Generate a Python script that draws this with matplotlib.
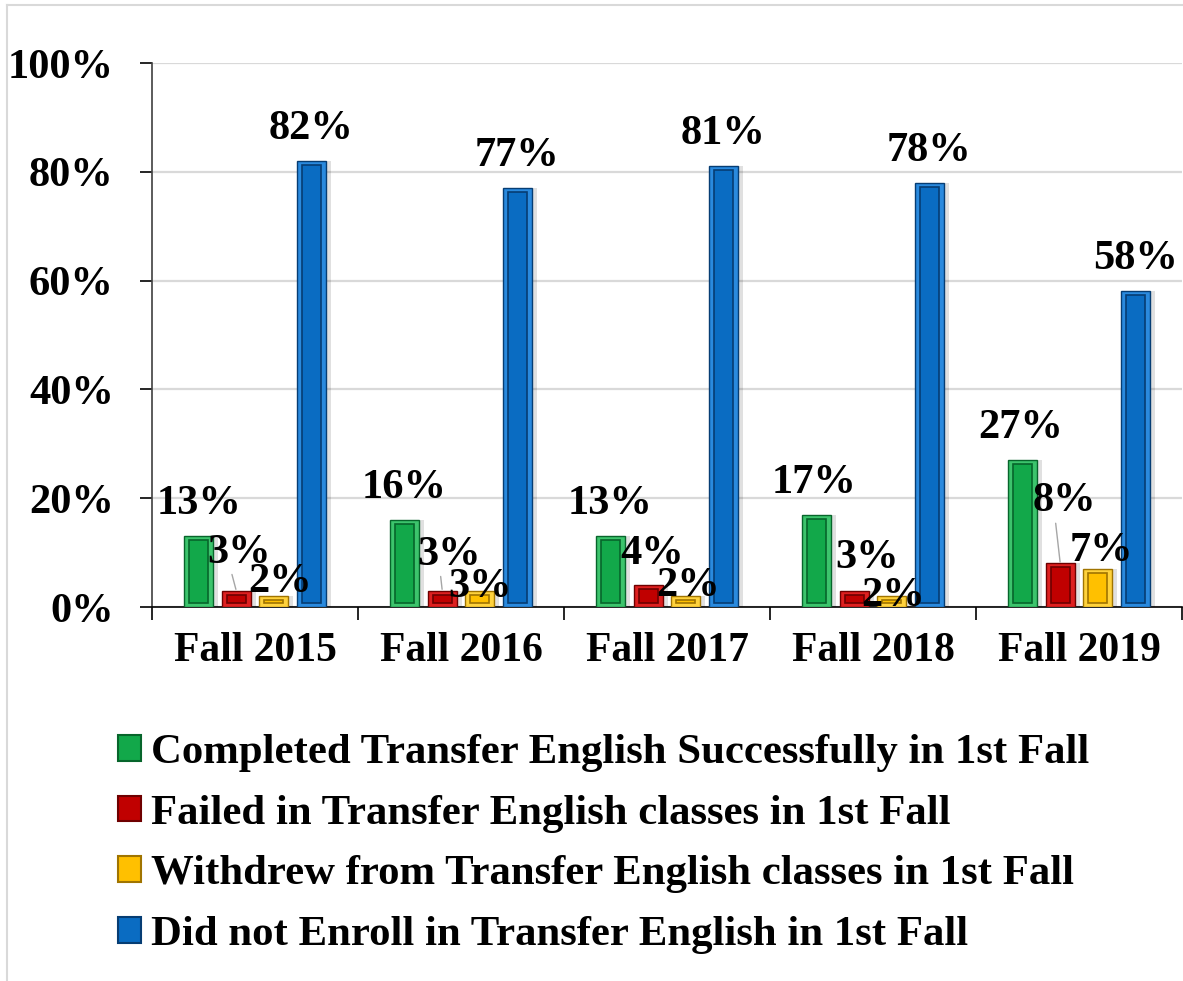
import numpy as np
import matplotlib.pyplot as plt
from matplotlib.patches import Patch
from matplotlib.lines import Line2D

# data
years = ['Fall 2015', 'Fall 2016', 'Fall 2017', 'Fall 2018', 'Fall 2019']
series_names = ['Completed Transfer English Successfully in 1st Fall',
                'Failed in Transfer English classes in 1st Fall',
                'Withdrew from Transfer English classes in 1st Fall',
                'Did not Enroll in Transfer English in 1st Fall']
completed = [13, 16, 13, 17, 27]
failed = [3, 3, 4, 3, 8]
withdrew = [2, 3, 2, 2, 7]
not_enrolled = [82, 77, 81, 78, 58]

# style
colors = ['#12a84a', '#c00000', '#ffc000', '#0a6cc2']
dark = ['#07652b', '#6e0000', '#a07400', '#063d73']
light = ['#3cc46c', '#de2020', '#ffd23c', '#2a8ade']
# label offsets in pixels (dx, dy above bar top)
lab_off = [
    [(0, 22), (-1, 22), (-1, 22), (-3, 22), (-2, 22)],
    [(3, 28), (7, 26), (4, 21), (13, 23), (4, 52)],
    [(6, 4), (0, -6), (2, 0), (1, -10), (4, 8)],
    [(0, 22), (0, 22), (0, 22), (0, 22), (0, 22)],
]
leaders = {(1, 0), (1, 1), (1, 4)}

plt.rcParams['font.family'] = ['Liberation Serif', 'DejaVu Serif']
plt.rcParams['font.weight'] = 'bold'

fig = plt.figure(figsize=(11.83, 9.81), dpi=100)
ax = fig.add_axes([152 / 1183, 1 - 607 / 981, (1182 - 152) / 1183, (607 - 63) / 981])

x = np.arange(len(years))
w = 0.14
step = 0.182
data = [completed, failed, withdrew, not_enrolled]
px_y = 100 / 544.0  # data units per pixel (y)
px_x = 5 / 1030.0

for i, vals in enumerate(data):
    pos = x + (i - 1.5) * step
    # shadow
    ax.bar(pos + 5 * px_x, vals, w, color='#000000', alpha=0.12, zorder=2)
    ax.bar(pos, vals, w, color=light[i], edgecolor=dark[i], linewidth=1.0, zorder=3)
    inset_x = 5 * px_x
    inset_y = 4 * px_y
    inner = [max(v - 2 * inset_y, 0.3) for v in vals]
    ax.bar(pos, inner, w - 2 * inset_x, bottom=inset_y, color=colors[i],
           edgecolor=dark[i], linewidth=1.2, zorder=4)
    for j, v in enumerate(vals):
        dx, dy = lab_off[i][j]
        kw = {}
        if (i, j) in leaders:
            kw['arrowprops'] = dict(arrowstyle='-', color='#a6a6a6', lw=1,
                                    shrinkA=0, shrinkB=1, relpos=(0.35, 0.15))
        ax.annotate(f'{v}%', xy=(pos[j], v), xytext=(dx, dy),
                    textcoords='offset pixels', ha='center', va='baseline',
                    fontsize=30.5, fontweight='bold', zorder=6, **kw)

ax.set_xlim(-0.5, len(years) - 0.5)
ax.set_ylim(0, 100)
ax.set_yticks(np.arange(0, 101, 20))
ax.set_yticklabels([f'{t}%' for t in range(0, 101, 20)])
ax.set_xticks(x)
ax.set_xticklabels(years)
ax.set_xticks(np.arange(-0.5, len(years)), minor=True)
ax.tick_params(axis='x', which='major', length=0, pad=18, labelsize=30)
ax.tick_params(axis='x', which='minor', length=9.5, width=1.2, direction='out')
ax.tick_params(axis='y', length=8.5, width=1.2, pad=19, labelsize=30.5)
for lab in ax.get_xticklabels() + ax.get_yticklabels():
    lab.set_fontweight('bold')

ax.yaxis.grid(True, color='#d9d9d9', linewidth=1.6, zorder=0)
ax.set_axisbelow(True)
for s in ['top', 'right']:
    ax.spines[s].set_visible(False)
ax.spines['left'].set_color('#404040')
ax.spines['left'].set_linewidth(1.2)
ax.spines['bottom'].set_linewidth(1.2)

handles = [Patch(facecolor=colors[i], edgecolor=dark[i], linewidth=1.5) for i in range(4)]
fig.legend(handles, series_names, loc='upper left', bbox_to_anchor=(118 / 1183, 1 - 734 / 981),
           frameon=False, handlelength=0.54, handleheight=0.54,
           handletextpad=0.22, labelspacing=0.53, borderaxespad=0, borderpad=0,
           prop={'weight': 'bold', 'size': 30.8})

# outer frame
fig.add_artist(Line2D([7 / 1183, 1.0], [1 - 5 / 981] * 2, color='#d9d9d9', lw=1.5,
                      transform=fig.transFigure))
fig.add_artist(Line2D([7 / 1183] * 2, [0, 1 - 5 / 981], color='#d9d9d9', lw=1.5,
                      transform=fig.transFigure))

fig.savefig('out.png', dpi=100)
